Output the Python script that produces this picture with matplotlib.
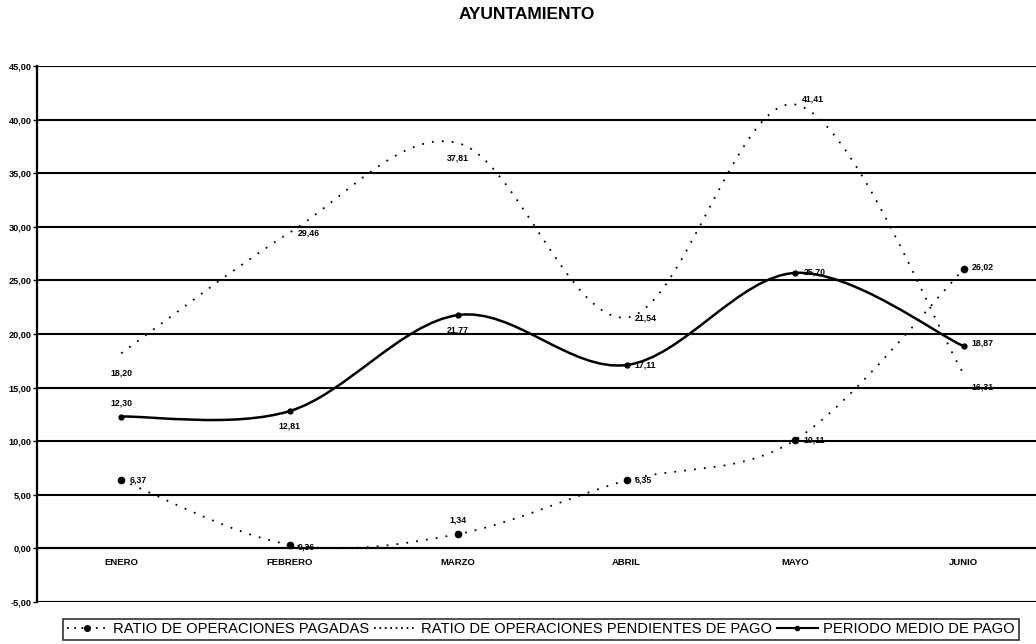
import matplotlib.pyplot as plt
from matplotlib.path import Path
from matplotlib.patches import PathPatch
from matplotlib.lines import Line2D

meses = ["ENERO", "FEBRERO", "MARZO", "ABRIL", "MAYO", "JUNIO"]
pagadas = [6.37, 0.36, 1.34, 6.35, 10.11, 26.02]
pendientes = [18.20, 29.46, 37.81, 21.54, 41.41, 16.31]
periodo = [12.30, 12.81, 21.77, 17.11, 25.70, 18.87]
yticks = [-5, 0, 5, 10, 15, 20, 25, 30, 35, 40, 45]

plt.rcParams['font.family'] = ['Liberation Sans', 'DejaVu Sans']


def smooth_path(xs, ys):
    # Catmull-Rom style bezier, like Excel's smoothed lines
    pts = list(zip(xs, ys))
    n = len(pts)
    verts = [pts[0]]
    codes = [Path.MOVETO]
    for i in range(n - 1):
        p0 = pts[i - 1] if i > 0 else pts[i]
        p1 = pts[i]
        p2 = pts[i + 1]
        p3 = pts[i + 2] if i + 2 < n else pts[i + 1]
        c1 = (p1[0] + (p2[0] - p0[0]) / 6, p1[1] + (p2[1] - p0[1]) / 6)
        c2 = (p2[0] - (p3[0] - p1[0]) / 6, p2[1] - (p3[1] - p1[1]) / 6)
        verts += [c1, c2, p2]
        codes += [Path.CURVE4] * 3
    return Path(verts, codes)


def fmt(v):
    return ("%.2f" % v).replace(".", ",")


fig = plt.figure(figsize=(10.36, 6.44), dpi=100)
ax = fig.add_axes([0.0357, 0.0652, 0.9643, 0.8323])
x = list(range(len(meses)))

ax.set_xlim(-0.5, 5.43)
ax.set_ylim(-5, 45)
ax.spines['bottom'].set_position(('data', 0))
for v in yticks:
    ax.axhline(v, color='black', lw=1.5, zorder=1)

ax.add_patch(PathPatch(smooth_path(x, pendientes), fill=False, color='black',
                       lw=1.3, linestyle=(0, (1, 4.5)), zorder=2))
ax.add_patch(PathPatch(smooth_path(x, pagadas), fill=False, color='black',
                       lw=1.3, linestyle=(0, (1, 4.5)), zorder=2))
ax.add_patch(PathPatch(smooth_path(x, periodo), fill=False, color='black',
                       lw=1.8, zorder=3))
ax.plot(x, pagadas, 'o', color='black', ms=4.5, zorder=4)
ax.plot(x, periodo, 'o', color='black', ms=3.5, zorder=4)

# data labels
lab_kw = dict(textcoords='offset points', fontsize=6.3, fontweight='bold')
pag_off = [(6, 0), (6, -2), (0, 10), (6, 0), (6, 0), (6, 2)]
pen_off = [(0, -14), (6, 0), (0, -11), (6, 0), (5, 4), (6, -10)]
per_off = [(0, 10), (0, -11), (0, -11), (6, 0), (6, 1), (6, 2)]
for i in x:
    ha = 'left' if pag_off[i][0] > 0 else 'center'
    ax.annotate(fmt(pagadas[i]), (i, pagadas[i]), xytext=pag_off[i], ha=ha, va='center', **lab_kw)
    ha = 'left' if pen_off[i][0] > 0 else 'center'
    ax.annotate(fmt(pendientes[i]), (i, pendientes[i]), xytext=pen_off[i], ha=ha, va='center', **lab_kw)
    ha = 'left' if per_off[i][0] > 0 else 'center'
    ax.annotate(fmt(periodo[i]), (i, periodo[i]), xytext=per_off[i], ha=ha, va='center', **lab_kw)

ax.set_yticks(yticks)
ax.set_yticklabels([fmt(v) for v in yticks], fontweight='bold')
ax.set_xticks(x)
ax.set_xticklabels(meses, fontweight='bold')
ax.spines['bottom'].set_linewidth(1.5)
ax.spines['left'].set_linewidth(1.6)
ax.spines['top'].set_visible(False)
ax.spines['right'].set_visible(False)
ax.tick_params(axis='x', length=0, pad=7, labelsize=6.8)
ax.tick_params(axis='y', length=3, width=1, pad=1, labelsize=6.6)

fig.text(0.508, 0.977, "AYUNTAMIENTO", ha='center', va='center', fontsize=12.5, fontweight='bold')

handles = [
    Line2D([], [], color='black', lw=1.3, linestyle=(0, (1, 3)), marker='o', ms=4),
    Line2D([], [], color='black', lw=1.3, linestyle=(0, (1, 2))),
    Line2D([], [], color='black', lw=1.5, marker='o', ms=3),
]
labels = ["RATIO DE OPERACIONES PAGADAS", "RATIO DE OPERACIONES PENDIENTES DE PAGO",
          "PERIODO MEDIO DE PAGO"]
leg = fig.legend(handles, labels, loc='center', bbox_to_anchor=(0.522, 0.023), ncol=3,
                 fontsize=10.6, frameon=True, fancybox=False, edgecolor='black',
                 handlelength=2.8, handletextpad=0.35, columnspacing=0.35,
                 borderpad=0.25, borderaxespad=0)
leg.get_frame().set_linewidth(1.2)

fig.savefig("out.png", dpi=100)
